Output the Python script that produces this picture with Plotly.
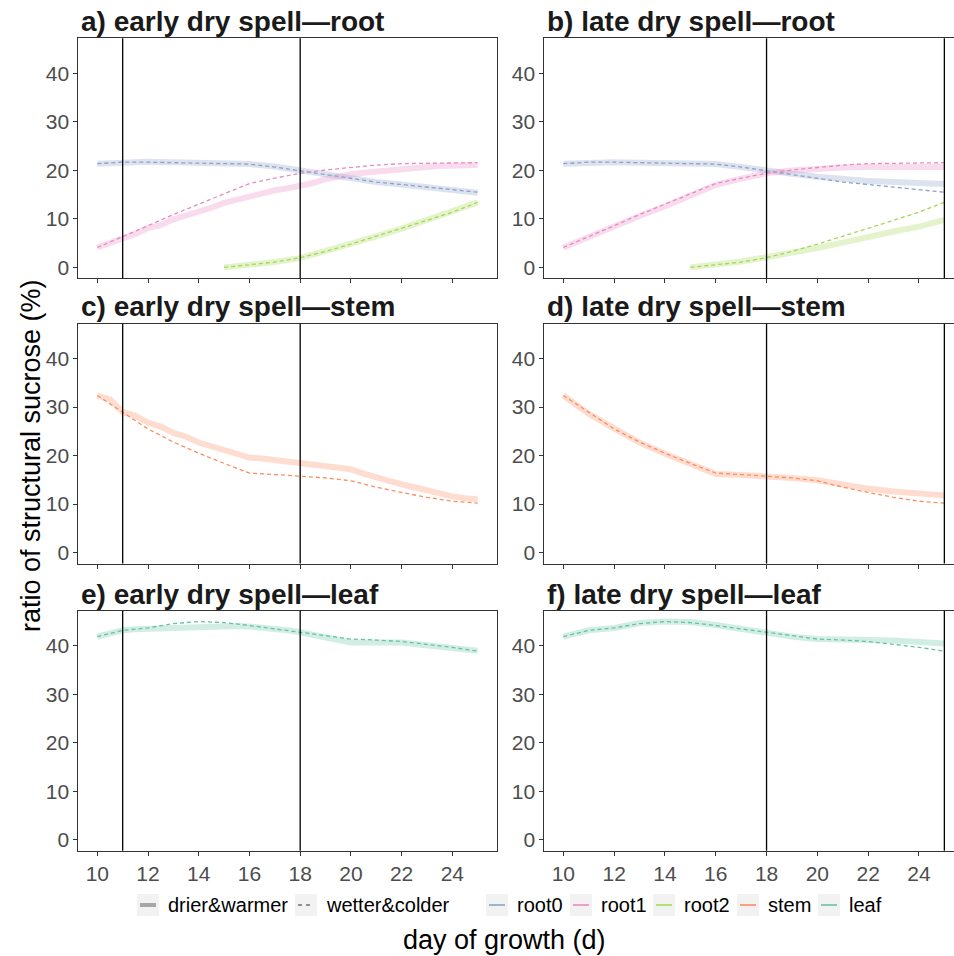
import plotly.graph_objects as go

# ---------------- data ----------------
days = [10, 11, 12, 13, 14, 15, 16, 17, 18, 19, 20, 21, 22, 23, 24, 25]
days_half = [10, 10.5, 11, 11.5, 12, 12.5, 13, 13.5, 14, 14.5, 15, 15.5, 16, 16.5,
             17, 17.5, 18, 18.5, 19, 19.5, 20, 20.5, 21, 21.5, 22, 22.5, 23, 23.5,
             24, 24.5, 25]
days_root2 = [15, 16, 17, 18, 19, 20, 21, 22, 23, 24, 25]

organs = ["root0", "root1", "root2", "stem", "leaf"]
organ_colors = ["#8DA0CB", "#E78AC3", "#A6D854", "#FC8D62", "#66C2A5"]
organ_soft = ["rgba(141,160,203,0.30)", "rgba(231,138,195,0.30)", "rgba(166,216,84,0.30)",
              "rgba(252,141,98,0.30)", "rgba(102,194,165,0.30)"]

# wetter & colder (shared reference run)
wet_root0 = [21.4, 21.7, 21.7, 21.6, 21.5, 21.5, 21.3, 20.7, 19.9, 19.1, 18.3, 17.6, 17.1, 16.6, 16.1, 15.5]
wet_root1 = [4.1, 6.3, 8.6, 10.9, 13.0, 15.1, 17.3, 18.4, 19.4, 20.1, 20.6, 21.1, 21.4, 21.5, 21.6, 21.6]
wet_root2 = [0.0, 0.5, 1.1, 2.0, 3.3, 4.8, 6.4, 8.0, 9.7, 11.4, 13.4]
wet_stem = [32.4, 28.9, 25.5, 22.8, 20.5, 18.4, 16.4, 16.1, 15.8, 15.4, 14.8, 13.5, 12.4, 11.4, 10.6, 10.2]
wet_leaf = [41.9, 43.2, 43.7, 44.6, 45.0, 44.8, 44.2, 43.5, 42.7, 42.0, 41.4, 41.2, 40.9, 40.3, 39.7, 38.9]

# drier & warmer, early dry spell
early_root0 = [21.4, 21.7, 21.8, 21.7, 21.6, 21.5, 21.3, 20.8, 20.0, 19.2, 18.3, 17.6, 17.1, 16.6, 16.1, 15.4]
early_root1 = [4.1, 5.0, 6.2, 6.9, 8.1, 8.7, 9.9, 10.6, 11.6, 12.3, 13.3, 14.0, 14.8, 15.4, 15.9, 16.3,
               16.8, 17.4, 18.2, 18.8, 19.2, 19.5, 19.8, 20.1, 20.4, 20.6, 20.7, 20.9, 21.0, 21.1, 21.1]
early_root2 = [0.0, 0.5, 1.1, 1.9, 3.3, 4.8, 6.4, 8.0, 9.8, 11.5, 13.4]
early_stem = [32.4, 31.6, 29.0, 28.2, 26.8, 26.0, 24.7, 23.9, 22.7, 22.0, 21.0, 20.3, 19.6, 19.4, 19.1, 18.9,
              18.6, 18.4, 18.0, 17.7, 17.2, 16.3, 15.4, 14.8, 14.1, 13.4, 12.8, 12.2, 11.6, 11.2, 11.0]
early_leaf = [41.9, 42.5, 43.2, 43.4, 43.5, 43.6, 43.7, 43.9, 44.0, 44.1, 44.1, 44.1, 44.0, 43.8, 43.5, 43.2,
              42.8, 42.3, 41.9, 41.2, 40.7, 40.7, 40.8, 40.8, 40.7, 40.4, 40.1, 39.9, 39.6, 39.4, 39.0]

# drier & warmer, late dry spell
late_root0 = [21.4, 21.7, 21.7, 21.6, 21.5, 21.5, 21.3, 20.7, 19.9, 19.3, 18.7, 18.2, 17.8, 17.6, 17.3, 17.2]
late_root1 = [4.1, 6.3, 8.6, 10.6, 12.6, 14.7, 17.0, 18.3, 19.4, 20.0, 20.4, 20.6, 20.7, 20.7, 20.7, 20.7]
late_root2 = [0.0, 0.5, 1.2, 2.1, 2.9, 4.0, 5.1, 6.4, 7.4, 8.4, 9.8]
late_stem = [32.4, 28.6, 25.6, 22.7, 20.4, 18.3, 16.2, 16.0, 15.8, 15.4, 14.9, 14.0, 13.2, 12.6, 12.1, 11.8]
late_leaf = [41.9, 43.2, 43.7, 44.7, 45.0, 44.9, 44.3, 43.5, 42.6, 41.9, 41.4, 41.4, 41.3, 41.1, 40.8, 40.5]

early_spell = [11, 18]
late_spell = [18, 25]

panel_titles = ["a) early dry spell\u2014root", "b) late dry spell\u2014root",
                "c) early dry spell\u2014stem", "d) late dry spell\u2014stem",
                "e) early dry spell\u2014leaf", "f) late dry spell\u2014leaf"]
y_ticks = [0, 10, 20, 30, 40]
x_ticks = [10, 12, 14, 16, 18, 20, 22, 24]
scenario_labels = ["drier&warmer", "wetter&colder"]

# ---------------- layout helpers ----------------
W, H = 954, 956
FONT = "Liberation Sans, Arial, sans-serif"


def px(x):
    return x / W


def py(y):
    return 1 - y / H


col_px = [(78.3, 496.7), (544.3, 954.0)]
row_px = [(38.3, 278.3), (323.5, 563.5), (610.7, 850.7)]
x_ranges = [[9.25, 25.75], [9.25, 25.38]]

wet = {"root0": (days, wet_root0), "root1": (days, wet_root1), "root2": (days_root2, wet_root2),
       "stem": (days, wet_stem), "leaf": (days, wet_leaf)}
early = {"root0": (days, early_root0), "root1": (days_half, early_root1),
         "root2": (days_root2, early_root2), "stem": (days_half, early_stem),
         "leaf": (days_half, early_leaf)}
late = {"root0": (days, late_root0), "root1": (days, late_root1), "root2": (days_root2, late_root2),
        "stem": (days, late_stem), "leaf": (days, late_leaf)}

row_organs = [["root0", "root1", "root2"], ["stem"], ["leaf"]]

fig = go.Figure()
layout = {}
shapes = []
annotations = []

for r in range(3):
    for c in range(2):
        i = r * 2 + c + 1
        xa = "x" if i == 1 else f"x{i}"
        ya = "y" if i == 1 else f"y{i}"
        drier = early if c == 0 else late
        spell = early_spell if c == 0 else late_spell
        # thick soft lines first
        for org in row_organs[r]:
            k = organs.index(org)
            xs, ys = drier[org]
            fig.add_trace(go.Scatter(x=xs, y=ys, mode="lines", xaxis=xa, yaxis=ya,
                                     line=dict(color=organ_soft[k], width=6),
                                     showlegend=False, hoverinfo="skip"))
        for org in row_organs[r]:
            k = organs.index(org)
            xs, ys = wet[org]
            fig.add_trace(go.Scatter(x=xs, y=ys, mode="lines", xaxis=xa, yaxis=ya,
                                     line=dict(color=organ_colors[k], width=1.3, dash="4px,3px"),
                                     showlegend=False, hoverinfo="skip"))
        for sx in spell:
            shapes.append(dict(type="line", xref=xa, yref=f"{ya} domain", x0=sx, x1=sx,
                               y0=0, y1=1, line=dict(color="black", width=1.3), layer="above"))
        key_x = "xaxis" if i == 1 else f"xaxis{i}"
        key_y = "yaxis" if i == 1 else f"yaxis{i}"
        layout[key_x] = dict(domain=[px(col_px[c][0]), px(col_px[c][1])], range=x_ranges[c],
                             anchor=ya, tickvals=x_ticks, showticklabels=(r == 2),
                             ticks="outside", ticklen=4, tickcolor="#333333",
                             showline=True, mirror=True, linecolor="#333333", linewidth=1,
                             showgrid=False, zeroline=False,
                             tickfont=dict(family=FONT, size=21, color="#4D4D4D"))
        layout[key_y] = dict(domain=[py(row_px[r][1]), py(row_px[r][0])], range=[-2.25, 47.25],
                             anchor=xa, tickvals=y_ticks, ticks="outside", ticklen=4,
                             tickcolor="#333333", showline=True, mirror=True,
                             linecolor="#333333", linewidth=1, showgrid=False, zeroline=False,
                             tickfont=dict(family=FONT, size=21, color="#4D4D4D"))
        annotations.append(dict(text=f"<b>{panel_titles[i - 1]}</b>", xref="paper", yref="paper",
                                x=px(col_px[c][0] + 1), y=py(row_px[r][0]), xanchor="left",
                                yanchor="bottom", showarrow=False, yshift=-1,
                                font=dict(family=FONT, size=28, color="#1A1A1A")))

# axis titles
annotations.append(dict(text="ratio of structural sucrose (%)", xref="paper", yref="paper",
                        x=px(31), y=py(456), xanchor="center", yanchor="middle",
                        textangle=-90, showarrow=False,
                        font=dict(family=FONT, size=27, color="black")))
annotations.append(dict(text="day of growth (d)", xref="paper", yref="paper",
                        x=px(505), y=py(940), xanchor="center", yanchor="middle",
                        showarrow=False,
                        font=dict(family=FONT, size=27, color="black")))

# legend (drawn manually, ggplot style keys)
leg_y = 905
key_w = 22
key_left = [137, 295, 486, 570, 653, 737, 818]
leg_labels = scenario_labels + organs
for j, lab in enumerate(leg_labels):
    kx = key_left[j]
    shapes.append(dict(type="rect", xref="paper", yref="paper", x0=px(kx), x1=px(kx + key_w),
                       y0=py(leg_y + 11), y1=py(leg_y - 11), fillcolor="#F2F2F2",
                       line=dict(width=0), layer="below"))
    if j == 0:
        ln = dict(color="#A6A6A6", width=4)
    elif j == 1:
        ln = dict(color="#333333", width=1.2, dash="4px,4px")
    else:
        ln = dict(color=organ_colors[j - 2], width=1.6)
    shapes.append(dict(type="line", xref="paper", yref="paper", x0=px(kx + 3), x1=px(kx + key_w - 3),
                       y0=py(leg_y), y1=py(leg_y), line=ln))
    annotations.append(dict(text=lab, xref="paper", yref="paper", x=px(kx + key_w + 7),
                            y=py(leg_y), xanchor="left", yanchor="middle", showarrow=False,
                            font=dict(family=FONT, size=20, color="black")))

fig.update_layout(width=W, height=H, margin=dict(l=0, r=0, t=0, b=0),
                  plot_bgcolor="white", paper_bgcolor="white", showlegend=False,
                  shapes=shapes, annotations=annotations, **layout)

fig.write_html("out.html")
